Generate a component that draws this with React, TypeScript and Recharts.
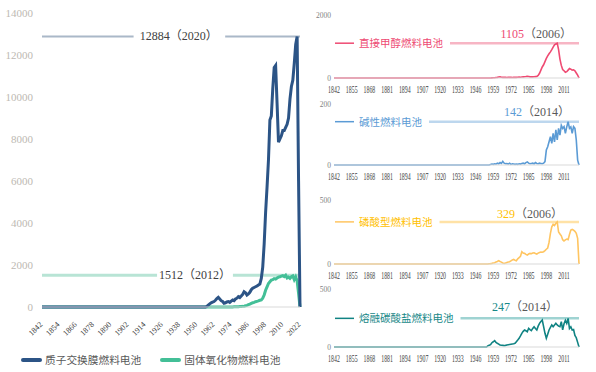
import React from "react";
import { LineChart, Line, XAxis, YAxis, ReferenceLine } from "recharts";

const firstYear = 1842;
const lastYear = 2022;

const mainXTicks = [1842, 1854, 1866, 1878, 1890, 1902, 1914, 1926, 1938, 1950, 1962, 1974, 1986, 1998, 2010, 2022];
const mainYTicks = [0, 2000, 4000, 6000, 8000, 10000, 12000, 14000];
const panelXTicks = [1842, 1855, 1868, 1881, 1894, 1907, 1920, 1933, 1946, 1959, 1972, 1985, 1998, 2011];
const dmfcYTicks = [0, 2000];
const afcYTicks = [0, 200];
const pafcYTicks = [0, 500];
const mcfcYTicks = [0, 500];

const names = {
  pemfc: "质子交换膜燃料电池",
  sofc: "固体氧化物燃料电池",
  dmfc: "直接甲醇燃料电池",
  afc: "碱性燃料电池",
  pafc: "磷酸型燃料电池",
  mcfc: "熔融碳酸盐燃料电池",
};

// peak value, year
const pemfcPeak = [12884, 2020];
const sofcPeak = [1512, 2012];
const dmfcPeak = [1105, 2006];
const afcPeak = [142, 2014];
const pafcPeak = [329, 2006];
const mcfcPeak = [247, 2014];

// yearly values, zero before the start year
const pemfcStart = 1957;
const pemfc = [
  30, 90, 150, 200, 230, 260, 320, 400, 460, 380,
  300, 260, 180, 200, 240, 260, 220, 280, 330, 300,
  380, 420, 490, 450, 520, 600, 730, 680, 570, 620,
  700, 820, 890, 930, 965, 1000, 1050, 1090, 1360, 1900,
  3000, 4500, 5700, 7000, 8900, 9100, 10400, 11400, 11500, 9700,
  7850, 8000, 8150, 8400, 8400, 8550, 8700, 9000, 9900, 10500,
  10800, 11600, 12500, 12884, 6000, 0,
];

const sofcStart = 1975;
const sofc = [
  5, 8, 10, 12, 15, 20, 25, 30, 40, 60,
  80, 110, 140, 175, 200, 220, 250, 270, 290, 320,
  340, 420, 570, 800, 960, 1120, 1200, 1280, 1300, 1350,
  1330, 1380, 1420, 1440, 1470, 1490, 1450, 1512, 1380, 1420,
  1360, 1440, 1480, 1300, 1430, 1250, 650, 0,
];

const dmfcStart = 1958;
const dmfc = [
  5, 8, 10, 15, 20, 30, 35, 25, 20, 25,
  20, 15, 20, 25, 20, 15, 20, 25, 20, 25,
  30, 25, 30, 35, 40, 45, 55, 45, 35, 40,
  35, 40, 45, 50, 80, 150, 250, 350, 420, 520,
  620, 700, 770, 830, 900, 980, 1050, 1080, 1105, 900,
  600, 400, 270, 230, 180, 200, 250, 300, 280, 250,
  260, 230, 160, 90, 0,
];

const afcStart = 1957;
const afc = [
  2, 3, 2, 4, 3, 6, 4, 8, 5, 12,
  6, 4, 5, 3, 6, 2, 4, 3, 2, 3,
  2, 4, 3, 5, 6, 4, 8, 10, 6, 4,
  5, 6, 4, 8, 5, 4, 6, 5, 4, 6,
  11, 49, 60, 76, 93, 71, 104, 76, 115, 82,
  120, 98, 130, 120, 126, 104, 125, 142, 120, 125,
  104, 126, 120, 82, 16, 0,
];

const pafcStart = 1955;
const pafc = [
  0, 2, 3, 5, 8, 10, 15, 20, 26, 20,
  15, 8, 5, 8, 12, 15, 18, 25, 32, 36,
  30, 26, 40, 50, 60, 96, 85, 83, 75, 70,
  78, 83, 80, 86, 88, 82, 78, 85, 90, 94,
  92, 96, 105, 115, 125, 170, 240, 290, 310, 300,
  318, 329, 250, 235, 220, 190, 180, 188, 195, 190,
  230, 265, 270, 265, 255, 240, 200, 0,
];

const mcfcStart = 1955;
const mcfc = [
  10, 15, 20, 37, 45, 55, 40, 32, 25, 17,
  15, 14, 12, 14, 18, 20, 22, 24, 26, 28,
  32, 46, 60, 75, 95, 118, 135, 147, 140, 132,
  161, 150, 141, 160, 175, 160, 147, 180, 204, 220,
  233, 175, 118, 75, 110, 147, 170, 190, 175, 190,
  204, 190, 180, 175, 218, 147, 200, 230, 204, 247,
  160, 175, 147, 150, 100, 80, 40, 0,
];

const pick = (arr: number[], start: number, year: number) =>
  year < start ? 0 : arr[year - start] ?? 0;

const rows: any[] = [];
for (let y = firstYear; y <= lastYear; y++) {
  rows.push({
    year: y,
    pemfc: pick(pemfc, pemfcStart, y),
    sofc: pick(sofc, sofcStart, y),
    dmfc: pick(dmfc, dmfcStart, y),
    afc: pick(afc, afcStart, y),
    pafc: pick(pafc, pafcStart, y),
    mcfc: pick(mcfc, mcfcStart, y),
  });
}

const SERIF = "'Liberation Serif', 'Noto Sans CJK SC', serif";
const CJK = "'Noto Sans CJK SC', sans-serif";

function MainXTick({ x, y, payload }: any) {
  const ax = x + 1;
  const ay = y + 18;
  return (
    <text x={ax} y={ay} transform={`rotate(-45 ${ax} ${ay})`} textAnchor="end" fontSize={8} fontFamily={SERIF} fill="#404040">
      {payload.value}
    </text>
  );
}

function PanelXTick({ x, y, payload }: any) {
  return (
    <text transform={`translate(${x},${y + 14.5}) scale(0.62,1)`} textAnchor="middle" fontSize={9.5} fontFamily={SERIF} fill="#404040">
      {payload.value}
    </text>
  );
}

function GapLabel({ viewBox, peak, from, to, at }: any) {
  const { x, y, width } = viewBox;
  return (
    <g>
      <rect x={x + width * from} y={y - 4} width={width * (to - from)} height={8} fill="#fff" />
      <text x={x + width * at} y={y + 4} textAnchor="middle" fontSize={12} fontFamily={SERIF} fill="#404040">
        {`${peak[0]}（${peak[1]}）`}
      </text>
    </g>
  );
}

function PanelTag({ viewBox, name, color, textColor, peak, valueRight, valueUp }: any) {
  const { x, y, width } = viewBox;
  const gap = 25 + name.length * 10.5 + 7;
  return (
    <g>
      <rect x={x} y={y - 3} width={gap} height={6} fill="#fff" />
      <line x1={x + 1} x2={x + 20} y1={y} y2={y} stroke={color} strokeWidth={1.5} />
      <text x={x + 25} y={y + 4} fontSize={10.5} fontFamily={CJK} fill={textColor}>
        {name}
      </text>
      <text x={x + width - valueRight} y={y - valueUp} textAnchor="end" fontSize={12} fontFamily={SERIF}>
        <tspan fill={textColor}>{peak[0]}</tspan>
        <tspan fill="#595959">{`（${peak[1]}）`}</tspan>
      </text>
    </g>
  );
}

function Panel({ top, marginTop, plotH, dataKey, color, refColor, textColor, yTicks, peak, name, valueRight, valueUp }: any) {
  const height = marginTop + plotH + 20;
  return (
    <div style={{ position: "absolute", left: 300, top }}>
      <LineChart width={296} height={height} data={rows} margin={{ top: marginTop, right: 17, bottom: 0, left: 0 }}>
        <XAxis
          dataKey="year"
          type="number"
          domain={[firstYear, lastYear]}
          ticks={panelXTicks}
          interval={0}
          height={20}
          tickLine={false}
          tickSize={0}
          tickMargin={0}
          axisLine={{ stroke: "#d9d9d9" }}
          tick={PanelXTick}
        />
        <YAxis
          domain={[0, yTicks[1]]}
          ticks={yTicks}
          interval={0}
          width={34}
          axisLine={false}
          tickLine={false}
          tickSize={0}
          tickMargin={3}
          tick={{ fontSize: 7.5, fill: "#7f7f7f", fontFamily: SERIF }}
        />
        <ReferenceLine
          y={peak[0]}
          stroke={refColor}
          strokeWidth={2.5}
          label={(p: any) => (
            <PanelTag viewBox={p.viewBox} name={name} color={color} textColor={textColor} peak={peak} valueRight={valueRight} valueUp={valueUp} />
          )}
        />
        <Line type="linear" dataKey={dataKey} stroke={color} strokeWidth={1.6} dot={false} isAnimationActive={false} />
      </LineChart>
    </div>
  );
}

const legendItem = (color: string, label: string, gap: number) => (
  <div style={{ display: "flex", alignItems: "center", marginRight: gap }}>
    <span style={{ width: 21, height: 4, borderRadius: 2, background: color, marginRight: 3 }} />
    <span>{label}</span>
  </div>
);

export default function App() {
  return (
    <div style={{ position: "absolute", left: 0, top: 0, width: 596, height: 372, background: "#fff" }}>
      <div style={{ position: "absolute", left: 0, top: 0 }}>
        <LineChart width={310} height={372} data={rows} margin={{ top: 13, right: 10, bottom: 35, left: 0 }}>
          <XAxis
            dataKey="year"
            type="number"
            domain={[firstYear, lastYear]}
            ticks={mainXTicks}
            interval={0}
            height={30}
            tickLine={false}
            tickSize={0}
            tickMargin={0}
            axisLine={{ stroke: "#d9d9d9" }}
            tick={MainXTick}
          />
          <YAxis
            domain={[0, 14000]}
            ticks={mainYTicks}
            interval={0}
            width={42}
            axisLine={false}
            tickLine={false}
            tickSize={0}
            tickMargin={9}
            tick={{ fontSize: 11, fill: "#bdb9b2", fontFamily: SERIF }}
          />
          <ReferenceLine
            y={pemfcPeak[0]}
            stroke="#aab8c8"
            strokeWidth={2}
            label={(p: any) => <GapLabel viewBox={p.viewBox} peak={pemfcPeak} from={0.355} to={0.71} at={0.53} />}
          />
          <ReferenceLine
            y={sofcPeak[0]}
            stroke="#b8e4d5"
            strokeWidth={3}
            label={(p: any) => <GapLabel viewBox={p.viewBox} peak={sofcPeak} from={0.446} to={0.74} at={0.593} />}
          />
          <Line type="linear" dataKey="sofc" stroke="#43bf97" strokeWidth={3} dot={false} isAnimationActive={false} />
          <Line type="linear" dataKey="pemfc" stroke="#2c5486" strokeWidth={3} dot={false} isAnimationActive={false} />
        </LineChart>
      </div>
      <div
        style={{
          position: "absolute",
          left: 21,
          top: 352,
          display: "flex",
          alignItems: "center",
          fontFamily: CJK,
          fontSize: 10.7,
          lineHeight: "16px",
          color: "#595959",
          whiteSpace: "nowrap",
        }}
      >
        {legendItem("#2c5486", names.pemfc, 19)}
        {legendItem("#43bf97", names.sofc, 0)}
      </div>

      <Panel top={0} marginTop={15} plotH={63} dataKey="dmfc" color="#ef4a72" refColor="#f7b5c4" textColor="#ee4a72" yTicks={dmfcYTicks} peak={dmfcPeak} name={names.dmfc} valueRight={7} valueUp={5} />
      <Panel top={95} marginTop={9} plotH={61} dataKey="afc" color="#5b9bd5" refColor="#bdd7ee" textColor="#5b9bd5" yTicks={afcYTicks} peak={afcPeak} name={names.afc} valueRight={9} valueUp={6} />
      <Panel top={190} marginTop={10} plotH={64} dataKey="pafc" color="#ffc561" refColor="#ffe2a6" textColor="#ffc000" yTicks={pafcYTicks} peak={pafcPeak} name={names.pafc} valueRight={16} valueUp={3.5} />
      <Panel top={280} marginTop={9} plotH={58} dataKey="mcfc" color="#108383" refColor="#9fd3d2" textColor="#178888" yTicks={mcfcYTicks} peak={mcfcPeak} name={names.mcfc} valueRight={21} valueUp={7} />
    </div>
  );
}
